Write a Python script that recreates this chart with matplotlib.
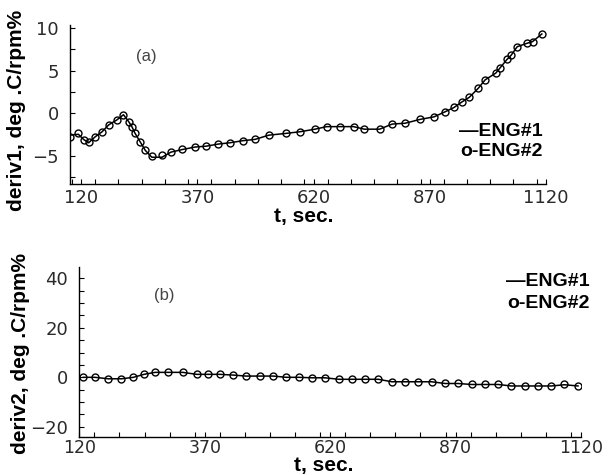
import matplotlib
matplotlib.use("Agg")
import matplotlib.pyplot as plt
from matplotlib.ticker import MultipleLocator

# panel (a): deriv1
t_a = [96, 114, 125, 136, 150, 165, 179, 197, 211, 222, 229, 236, 247, 258, 272, 294, 313, 337, 365, 389,
       415, 440, 468, 494, 524, 560, 591, 623, 648, 677, 706, 729, 762, 789, 817, 849, 879, 903, 922, 939,
       955, 974, 989, 1012, 1021, 1036, 1045, 1058, 1079, 1091, 1111]
eng1_v_a = [-2.6, -2.5, -3.1, -3.5, -2.8, -2.2, -1.4, -0.8, -0.2, -1.0, -1.6, -2.4, -3.4, -4.4, -5.2, -5.2,
            -4.6, -4.3, -4.0, -3.9, -3.65, -3.5, -3.25, -3.1, -2.6, -2.4, -2.2, -1.9, -1.6, -1.6, -1.6, -1.9,
            -1.9, -1.3, -1.2, -0.75, -0.45, 0.15, 0.65, 1.3, 1.85, 2.9, 3.9, 4.7, 5.3, 6.3, 6.8, 7.8, 8.2,
            8.4, 9.3]
eng2_v_a = [-2.8, -2.4, -3.2, -3.4, -2.8, -2.2, -1.4, -0.8, -0.2, -1.0, -1.6, -2.4, -3.4, -4.35, -5.1, -4.9,
            -4.55, -4.27, -3.96, -3.88, -3.65, -3.5, -3.26, -3.1, -2.6, -2.4, -2.2, -1.9, -1.6, -1.6, -1.6,
            -1.9, -1.9, -1.3, -1.2, -0.74, -0.43, 0.15, 0.67, 1.33, 1.84, 2.9, 3.9, 4.7, 5.3, 6.3, 6.8,
            7.8, 8.2, 8.4, 9.3]

# panel (b): deriv2
t_b = [128, 151, 178, 204, 228, 249, 271, 297, 326, 354, 377, 400, 427, 452, 480, 507, 532, 557, 584, 610,
       637, 663, 690, 716, 743, 769, 796, 822, 849, 875, 902, 928, 955, 981, 1008, 1034, 1061, 1087, 1114]
eng1_v_b = [0, 0, -0.6, -0.6, 0, 1.2, 2.0, 2.0, 2.0, 1.2, 1.2, 1.2, 0.9, 0.5, 0.5, 0.5, 0, 0, -0.2,
            -0.2, -0.8, -0.8, -0.8, -0.8, -1.8, -1.8, -1.8, -1.8, -2.5, -2.5, -2.9, -2.9, -2.9, -3.5, -3.5,
            -3.5, -3.5, -3.0, -3.5]
eng2_v_b = [0, 0, -0.7, -0.7, 0, 1.2, 2.0, 2.0, 2.0, 1.2, 1.2, 1.2, 0.9, 0.5, 0.5, 0.5, 0, 0, -0.2,
            -0.2, -0.8, -0.8, -0.8, -0.8, -1.8, -1.8, -1.8, -1.8, -2.5, -2.5, -2.9, -2.9, -2.9, -3.5, -3.5,
            -3.5, -3.5, -2.9, -3.5]

x_ticks = [120, 370, 620, 870, 1120]

plt.rcParams['font.family'] = ['Liberation Sans', 'DejaVu Sans']

fig = plt.figure(figsize=(6.1, 4.75), dpi=100)
ax1 = fig.add_axes([0.1148, 0.6126, 0.7803, 0.3347])
ax2 = fig.add_axes([0.1300, 0.0806, 0.8225, 0.358])


def style_axes(ax, xlim, ylim, yticks, ymin_step, xpad, xsize):
    ax.set_xlim(*xlim)
    ax.set_ylim(*ylim)
    ax.set_xticks(x_ticks)
    ax.set_yticks(yticks)
    ax.xaxis.set_minor_locator(MultipleLocator(50))
    ax.yaxis.set_minor_locator(MultipleLocator(ymin_step))
    for s in ['top', 'right']:
        ax.spines[s].set_visible(False)
    for s in ['left', 'bottom']:
        ax.spines[s].set_linewidth(1.0)
    ax.tick_params(which='both', direction='in', length=3.5, width=0.8, colors='black')
    for lab in ax.get_xticklabels() + ax.get_yticklabels():
        lab.set_family('DejaVu Sans')
        lab.set_fontsize(13)
        lab.set_color('#2a2a2a')
    for lab in ax.get_xticklabels():
        lab.set_fontsize(xsize)
    ax.tick_params(axis='x', pad=xpad)
    ax.tick_params(axis='y', pad=8)


ax1.plot(t_a, eng1_v_a, '-', color='black', lw=1.1)
ax1.plot(t_a, eng2_v_a, 'o', mfc='none', mec='black', ms=5, mew=1.0)
style_axes(ax1, (96, 1120), (-8.35, 10.35), [-5, 0, 5, 10], 2.5, 3.5, 13)

ax2.plot(t_b, eng1_v_b, '-', color='black', lw=1.1)
ax2.plot(t_b, eng2_v_b, 'o', mfc='none', mec='black', ms=5, mew=1.0)
style_axes(ax2, (120, 1120), (-24, 44.7), [-20, 0, 20, 40], 5, 1.5, 12.5)

# axis titles
fig.text(0.027, 0.768, 'deriv1, deg .C/rpm%', rotation=90, ha='center', va='center',
         fontsize=15, fontweight='bold')
fig.text(0.034, 0.255, 'deriv2, deg .C/rpm%', rotation=90, ha='center', va='center',
         fontsize=15, fontweight='bold')
fig.text(0.498, 0.544, 't, sec.', ha='center', va='center', fontsize=15, fontweight='bold')
fig.text(0.531, 0.021, 't, sec.', ha='center', va='center', fontsize=15, fontweight='bold')

# panel tags
fig.text(0.240, 0.88, '(a)', ha='center', va='center', fontsize=12, color='#444444')
fig.text(0.270, 0.377, '(b)', ha='center', va='center', fontsize=12, color='#444444')

# legends written as text
fig.text(0.889, 0.724, '\u2014ENG#1', ha='right', va='center', fontsize=14, fontweight='bold')
fig.text(0.889, 0.68, 'o-ENG#2', ha='right', va='center', fontsize=14, fontweight='bold')
fig.text(0.966, 0.407, '\u2014ENG#1', ha='right', va='center', fontsize=14, fontweight='bold')
fig.text(0.966, 0.361, 'o-ENG#2', ha='right', va='center', fontsize=14, fontweight='bold')

fig.savefig('out.png', dpi=100)
